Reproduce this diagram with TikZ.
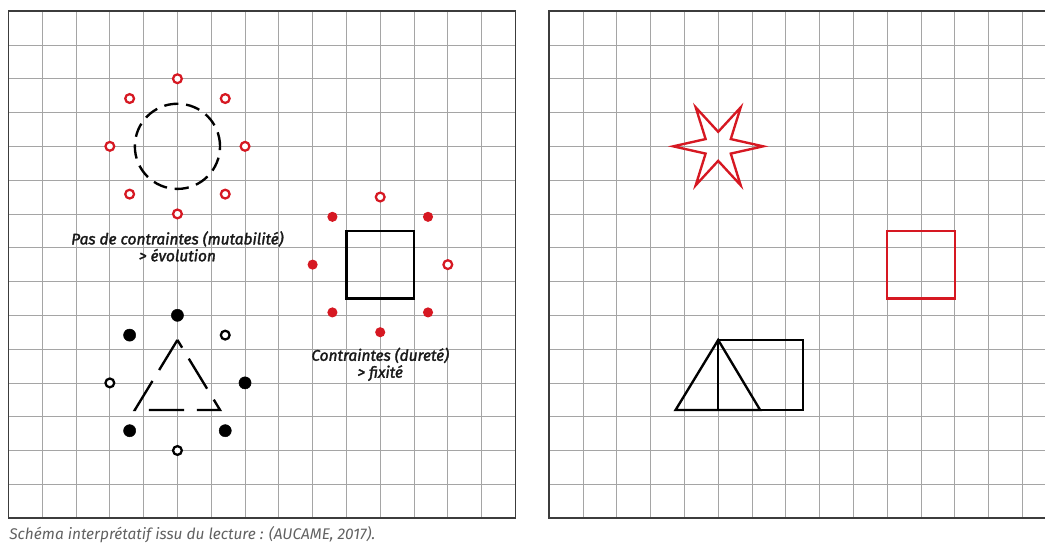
\documentclass[tikz,border=0pt]{standalone}
\usepackage{fontspec}
\setmainfont{Fira Sans}
\newfontfamily\lblfont{Fira Sans}[FakeBold=2]
\usepackage{xcolor}
\usepackage{tikz}

\definecolor{markred}{RGB}{214,24,34}
\definecolor{gridgray}{RGB}{165,165,165}
\definecolor{framegray}{RGB}{60,60,60}

\begin{document}
\begin{tikzpicture}[x=1cm, y=1cm,
  gridline/.style={draw=gridgray, line width=0.6pt},
  frameline/.style={draw=framegray, line width=1.3pt},
  shapeline/.style={line width=2pt},
  opendot/.style={circle, draw, line width=1.9pt, fill=white, minimum size=0.26cm, inner sep=0pt},
  fulldot/.style={circle, fill, minimum size=0.36cm, inner sep=0pt},
  redopen/.style={opendot, draw=markred},
  redfull/.style={fulldot, fill=markred, minimum size=0.3cm},
  lbl/.style={align=center, font=\lblfont\itshape\fontsize{13}{14.2}\selectfont, text=black!90}]

\useasboundingbox (-0.25,-0.79) rectangle (30.67,15.33);

% Grid panels
\foreach \px in {0,16}{
  \draw[gridline] (\px,0) grid (\px+15,15);
  \draw[frameline] (\px,0) rectangle (\px+15,15);
}

% Left panel: circle, no constraints
\draw[shapeline, dash pattern=on 12pt off 6.5pt] (5,11) circle (1.26);
\foreach \a [count=\i] in {0,45,...,315}
  \path (5,11) ++(\a:2) node[redopen] (circ\i) {};

\node[lbl] (freelbl) at (5,8.04) {Pas de contraintes (mutabilité)\\> évolution};

% Left panel: square, constraints
\draw[shapeline] (10,6.5) rectangle (12,8.5);
\foreach \a/\kind [count=\i] in {0/redopen,45/redfull,90/redopen,135/redfull,
                                  180/redfull,225/redfull,270/redfull,315/redfull}
  \path (11,7.5) ++(\a:2) node[\kind] (sq\i) {};

\node[lbl] (hardlbl) at (11,4.55) {Contraintes (dureté)\\> fixité};

% Left panel: triangle, mixed
\draw[shapeline, dash pattern=on 1.04cm off 0.38cm] (5,5.27) -- (3.74,3.2) -- (6.26,3.2) -- cycle;
\foreach \a/\kind [count=\i] in {0/fulldot,45/opendot,90/fulldot,135/fulldot,
                                  180/opendot,225/fulldot,270/opendot,315/fulldot}
  \path (5,4) ++(\a:2) node[\kind, draw=black] (tri\i) {};

% Right panel: results
\draw[shapeline, draw=markred, line join=miter, shift={(21,11)}]
  plot[samples at={0,30,...,330}, variable=\a] (\a:{1.33-0.9*mod(\a/30,2)}) -- cycle;
\draw[shapeline, draw=markred] (26,6.5) rectangle (28,8.5);
\draw[shapeline] (19.74,3.2) -- (21,5.27) -- (22.24,3.2) -- cycle;
\draw[shapeline] (21,3.2) rectangle (23.5,5.27);

% Source line
\node[anchor=base west, inner xsep=0pt, font=\itshape\fontsize{13}{15}\selectfont, text=black!62] (srclbl)
  at (0.02,-0.64) {Schéma interprétatif issu du lecture : (AUCAME, 2017).};

\end{tikzpicture}
\end{document}
